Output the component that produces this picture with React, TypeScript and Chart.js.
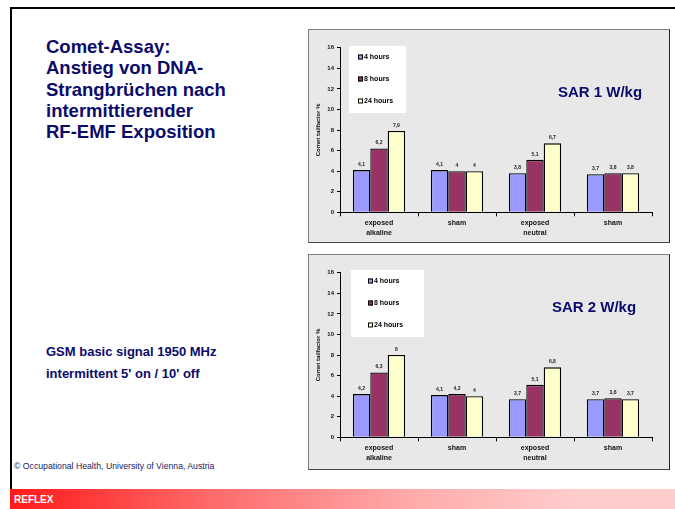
import React, { useEffect, useRef } from "react";
import { Chart, registerables } from "chart.js";

Chart.register(...registerables);

// ---------- data ----------
const categories: (string | string[])[] = [["exposed", "alkaline"], "sham", ["exposed", "neutral"], "sham"];
const seriesNames = ["4 hours", "8 hours", "24 hours"];
const seriesColors = ["#9999ff", "#993366", "#ffffcc"];

const sar1Hours4 = [4.1, 4.1, 3.8, 3.7];
const sar1Hours8 = [6.2, 4, 5.1, 3.8];
const sar1Hours24 = [7.9, 4, 6.7, 3.8];

const sar2Hours4 = [4.2, 4.1, 3.7, 3.7];
const sar2Hours8 = [6.3, 4.2, 5.1, 3.8];
const sar2Hours24 = [8, 4, 6.8, 3.7];

const yMin = 0;
const yMax = 16;
const yStep = 2;
const yAxisTitle = "Comet tailfactor %";

const slideTitle = ["Comet-Assay:", "Anstieg von DNA-", "Strangbrüchen nach", "intermittierender", "RF-EMF Exposition"];
const signalText = ["GSM basic signal 1950 MHz", "intermittent 5' on / 10' off"];
const copyrightText = "© Occupational Health, University of Vienna, Austria";
const footerText = "REFLEX";

// ---------- styling ----------
const FONT = "Arial, 'Liberation Sans', Helvetica, sans-serif";
const NAVY = "#0b0b6b";

type LegendBox = { x: number; y: number; w: number; h: number; markerX: number; textX: number; rows: number[] };
type PanelProps = {
  title: string;
  series: number[][];
  legend: LegendBox;
  titleX: number;
  titleY: number;
  top: number;
  boxHeight: number;
};

const overlayPlugin = {
  id: "overlay",
  afterDatasetsDraw(chart: any, _args: any, opts: any) {
    const ctx = chart.ctx as CanvasRenderingContext2D;
    ctx.save();
    // value labels
    ctx.font = `bold 5px ${FONT}`;
    ctx.fillStyle = "#222";
    ctx.textAlign = "center";
    ctx.textBaseline = "bottom";
    chart.data.datasets.forEach((ds: any, di: number) => {
      const meta = chart.getDatasetMeta(di);
      meta.data.forEach((el: any, i: number) => {
        const v = ds.data[i];
        ctx.fillText(String(v).replace(".", ","), el.x, el.y - 3);
      });
    });
    // legend
    const L: LegendBox = opts.legend;
    ctx.fillStyle = "#ffffff";
    ctx.fillRect(L.x, L.y, L.w, L.h);
    ctx.font = `bold 7px ${FONT}`;
    ctx.textAlign = "left";
    ctx.textBaseline = "middle";
    chart.data.datasets.forEach((ds: any, di: number) => {
      const y = L.rows[di];
      ctx.fillStyle = ds.backgroundColor;
      ctx.fillRect(L.markerX, y - 2.5, 5, 5);
      ctx.strokeStyle = "#000";
      ctx.lineWidth = 1;
      ctx.strokeRect(L.markerX + 0.5, y - 2, 4, 4);
      ctx.fillStyle = "#000";
      ctx.fillText(ds.label, L.textX, y + 0.5);
    });
    // panel title
    ctx.font = `bold 15px ${FONT}`;
    ctx.fillStyle = NAVY;
    ctx.textAlign = "center";
    ctx.fillText(opts.title, opts.titleX, opts.titleY);
    ctx.restore();
  },
};

function ChartPanel(p: PanelProps) {
  const ref = useRef<HTMLCanvasElement | null>(null);
  useEffect(() => {
    if (!ref.current) return;
    const chart = new Chart(ref.current, {
      type: "bar",
      data: {
        labels: categories as any,
        datasets: p.series.map((d, i) => ({
          label: seriesNames[i],
          data: d,
          backgroundColor: seriesColors[i],
          borderColor: "#000",
          borderWidth: 1.3,
          categoryPercentage: 0.67,
          barPercentage: 1,
        })),
      },
      options: {
        animation: false,
        responsive: false,
        maintainAspectRatio: false,
        layout: { padding: { left: 0, top: 18.7, right: 18, bottom: 0 } },
        plugins: {
          legend: { display: false },
          tooltip: { enabled: false },
          title: { display: false },
          overlay: { legend: p.legend, title: p.title, titleX: p.titleX, titleY: p.titleY },
        } as any,
        scales: {
          x: {
            afterFit: (s: any) => {
              s.height = 30.7;
            },
            grid: { display: true, drawOnChartArea: false, drawTicks: true, tickLength: 4, color: "#000", offset: true },
            border: { display: true, color: "#000", width: 1 },
            ticks: {
              autoSkip: false,
              maxRotation: 0,
              padding: 2,
              color: "#111",
              font: { family: FONT, size: 7, weight: "bold", lineHeight: 1.43 },
            },
          },
          y: {
            min: yMin,
            max: yMax,
            afterFit: (s: any) => {
              s.width = 32;
            },
            grid: { display: true, drawOnChartArea: false, drawTicks: true, tickLength: 3, color: "#000" },
            border: { display: true, color: "#000", width: 1 },
            ticks: {
              stepSize: yStep,
              autoSkip: false,
              padding: 3,
              color: "#111",
              font: { family: FONT, size: 6, weight: "bold" },
            },
            title: {
              display: true,
              text: yAxisTitle,
              color: "#111",
              padding: { top: 6.4, bottom: 0 },
              font: { family: FONT, size: 6, weight: "bold" },
            },
          },
        },
      },
      plugins: [overlayPlugin as any],
    });
    return () => chart.destroy();
  }, []);

  return (
    <div
      style={{
        position: "absolute",
        left: 308,
        top: p.top,
        width: 362,
        height: p.boxHeight,
        background: "#e8e8e8",
        borderTop: "1px solid #808080",
        borderLeft: "1px solid #808080",
        borderRight: "1.5px solid #222",
        borderBottom: "1.5px solid #444",
        boxSizing: "border-box",
      }}
    >
      <canvas ref={ref} width={362} height={214} style={{ position: "absolute", left: -1, top: -1, width: 362, height: 214 }} />
    </div>
  );
}

export default function App() {
  return (
    <div
      style={{
        position: "absolute",
        left: 0,
        top: 0,
        width: 675,
        height: 509,
        background: "#ffffff",
        overflow: "hidden",
        fontFamily: FONT,
      }}
    >
      {/* slide frame */}
      <div style={{ position: "absolute", left: 10, top: 7, width: 665, height: 2, background: "#000" }} />
      <div style={{ position: "absolute", left: 10, top: 7, width: 2, height: 482, background: "#000" }} />

      {/* slide title */}
      <div
        style={{
          position: "absolute",
          left: 46,
          top: 36,
          color: NAVY,
          fontWeight: "bold",
          fontSize: 18.5,
          lineHeight: "21.3px",
          whiteSpace: "nowrap",
        }}
      >
        {slideTitle.map((t, i) => (
          <div key={i}>{t}</div>
        ))}
      </div>

      {/* signal info */}
      <div
        style={{
          position: "absolute",
          left: 46,
          top: 341,
          color: NAVY,
          fontWeight: "bold",
          fontSize: 13,
          lineHeight: "21.5px",
          whiteSpace: "nowrap",
        }}
      >
        {signalText.map((t, i) => (
          <div key={i}>{t}</div>
        ))}
      </div>

      {/* copyright */}
      <div style={{ position: "absolute", left: 14, top: 461, color: "#1a1a5a", fontSize: 8.7, lineHeight: "10px", whiteSpace: "nowrap" }}>
        {copyrightText}
      </div>

      {/* footer band */}
      <div
        style={{
          position: "absolute",
          left: 10,
          top: 489,
          width: 665,
          height: 20,
          background: "linear-gradient(to right, #ff1a1a 0%, #ff6a6a 30%, #ffaaaa 60%, #ffcccc 85%, #ffcccc 100%)",
        }}
      >
        <div style={{ position: "absolute", left: 4, top: 5, color: "#fff", fontWeight: "bold", fontSize: 10, lineHeight: "12px" }}>
          {footerText}
        </div>
      </div>

      <ChartPanel
        title="SAR 1 W/kg"
        series={[sar1Hours4, sar1Hours8, sar1Hours24]}
        legend={{ x: 41, y: 17, w: 57, h: 67, markerX: 50, textX: 56, rows: [28, 50, 72] }}
        titleX={292}
        titleY={64}
        top={29}
        boxHeight={214}
      />
      <ChartPanel
        title="SAR 2 W/kg"
        series={[sar2Hours4, sar2Hours8, sar2Hours24]}
        legend={{ x: 43, y: 16, w: 73, h: 67, markerX: 60, textX: 66, rows: [27, 49, 71] }}
        titleX={286}
        titleY={54}
        top={254}
        boxHeight={216}
      />
    </div>
  );
}
